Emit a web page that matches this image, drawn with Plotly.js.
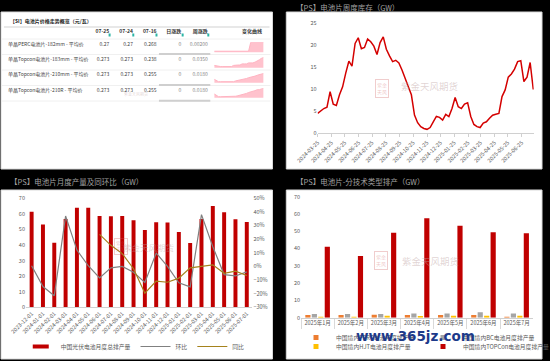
<!DOCTYPE html>
<html><head><meta charset="utf-8">
<script src="https://cdn.plot.ly/plotly-3.0.1.min.js"></script>
<style>
html,body{margin:0;padding:0;background:#000;}
#c{width:550px;height:361px;}
</style>
</head><body><div id="c"></div>
<script>
// ---------- data ----------
const invStart = '2024-03-25';
const inventory = [4.5,5.1,5.6,5.9,9.4,6.6,6.3,8.7,10.5,13.6,16.3,15.2,20.3,21.6,19.1,19.4,21.3,20.7,19.7,17.8,20.5,21.8,19.0,17.5,16.2,16.5,15.9,14.3,12.4,10.9,8.7,4.1,2.4,1.5,1.1,0.9,1.3,2.6,3.8,3.6,3.0,4.3,3.8,5.6,8.1,6.0,5.6,6.6,6.9,3.8,2.0,1.5,1.3,2.3,2.6,3.4,4.1,4.3,4.5,8.3,9.8,12.7,13.4,14.5,16.2,16.4,11.7,12.7,16.0,9.9];
const invTicks = ['2024-03-25','2024-04-25','2024-05-25','2024-06-25','2024-07-25','2024-08-25','2024-09-25','2024-10-25','2024-11-25','2024-12-25','2025-01-25','2025-02-25','2025-03-25','2025-04-25','2025-05-25','2025-06-25'];

const monthCats = ['2023-12-01','2024-01-01','2024-02-01','2024-03-01','2024-04-01','2024-05-01','2024-06-01','2024-07-01','2024-08-01','2024-09-01','2024-10-01','2024-11-01','2024-12-01','2025-01-01','2025-02-01','2025-03-01','2025-04-01','2025-05-01','2025-06-01','2025-07-01'];
const production = [61.4,53.1,41.5,56.7,64.0,64.0,58.7,58.4,58.7,55.9,49.7,54.6,54.4,48.4,41.3,56.7,65.1,61.0,56.5,54.8];
const momPct = [0.5,-14.8,-21.5,37.0,12.0,0.5,-8.4,-1.0,0.0,-4.3,-11.7,9.8,0.0,-12.0,-15.0,38.0,14.5,-6.0,-7.0,-4.0];
const yoyPct = [null,null,null,null,null,null,23.5,15.5,9.4,-1.7,-19.7,-10.8,-11.6,-8.6,-1.0,0.0,1.2,-5.0,-3.5,-6.7];

const techMonths = ['2025年1月','2025年2月','2025年3月','2025年4月','2025年5月','2025年6月','2025年7月'];
const percOut = [1.5,1.5,1.7,1.5,1.5,1.5,0.6];
const bcOut = [2.1,2.1,2.1,2.5,2.5,3.1,2.5];
const hjtOut = [0.6,0.6,1.2,1.0,1.2,1.2,1.2];
const topconOut = [41.1,35.7,49.2,57.5,53.2,49.4,48.8];

const tableHeaders = ['', '07-25', '07-24', '07-16', '日涨跌', '周涨跌', '变化曲线'];
const productNames = ['单晶PERC电池片-182mm - 平均价','单晶Topcon电池片-183mm - 平均价','单晶Topcon电池片-210mm - 平均价','单晶Topcon电池片-210R - 平均价'];
const price0725 = [0.27,0.273,0.273,0.273];
const price0724 = [0.27,0.273,0.273,0.273];
const price0716 = [0.268,0.238,0.255,0.255];
const dayChange = ['0','0','0','0'];
const weekChange = ['0.00200','0.0350','0.0180','0.0180'];
const sparkPERC182 = [0.268,0.268,0.268,0.268,0.268,0.268,0.268,0.268,0.268,0.268,0.268,0.268,0.268,0.268,0.268,0.268,0.268,0.27,0.27,0.27,0.27,0.27,0.27,0.27];
const sparkTopcon183 = [0.231,0.228,0.225,0.225,0.225,0.225,0.225,0.225,0.225,0.231,0.233,0.233,0.233,0.239,0.239,0.239,0.244,0.244,0.244,0.248,0.252,0.260,0.268,0.273];
const sparkTopcon210 = [0.258,0.255,0.252,0.252,0.252,0.252,0.252,0.252,0.252,0.252,0.254,0.255,0.256,0.258,0.259,0.260,0.262,0.263,0.265,0.266,0.268,0.270,0.271,0.273];
const sparkTopcon210R = [0.261,0.258,0.255,0.255,0.255,0.255,0.255,0.255,0.255,0.255,0.256,0.257,0.258,0.259,0.261,0.262,0.264,0.265,0.266,0.268,0.270,0.270,0.272,0.273];

// ---------- helpers ----------
const W = 550, H = 361;
const px = x => x / W;
const py = y => 1 - y / H;
const FONT = '"Noto Sans CJK SC", "Noto Sans", sans-serif';
const TICK = '#595959';
const NB = '\u00a0';
const CLEAR = 'rgba(0,0,0,0)';
function weeklyDates(start, n) {
  const d0 = Date.parse(start + 'T00:00:00Z');
  return Array.from({length: n}, (_, i) => new Date(d0 + i * 7 * 86400000).toISOString().slice(0, 10));
}
function sparkRange(a) {
  const lo = Math.min(...a), hi = Math.max(...a);
  return [lo - 0.12 * (hi - lo), hi];
}

const traces = [];
// top-right: weekly inventory
traces.push({type:'scatter', mode:'lines', x: weeklyDates(invStart, inventory.length), y: inventory,
  xaxis:'x', yaxis:'y', line:{color:'#d40000', width:1.5}, showlegend:false});

// bottom-left: monthly production
traces.push({type:'bar', x: monthCats, y: production, xaxis:'x2', yaxis:'y2', width:0.35,
  marker:{color:'#c00000'}, name:'中国光伏电池月度总排产量', legend:'legend'});
traces.push({type:'scatter', mode:'lines', x: monthCats, y: momPct, xaxis:'x2', yaxis:'y3',
  line:{color:'#808080', width:1.2}, name:'环比', legend:'legend'});
traces.push({type:'scatter', mode:'lines', x: monthCats, y: yoyPct, xaxis:'x2', yaxis:'y3',
  line:{color:'#a5821c', width:1.2}, name:'同比', legend:'legend'});

// bottom-right: output by technology
traces.push({type:'bar', x: techMonths, y: percOut, xaxis:'x3', yaxis:'y4', marker:{color:'#ed7d31'}, name:'中国境内PERC电池月度排产量', legend:'legend2'});
traces.push({type:'bar', x: techMonths, y: bcOut, xaxis:'x3', yaxis:'y4', marker:{color:'#a5a5a5'}, name:'中国境内BC电池月度排产量', legend:'legend2'});
traces.push({type:'bar', x: techMonths, y: hjtOut, xaxis:'x3', yaxis:'y4', marker:{color:'#ffc000'}, name:'中国境内HJT电池月度排产量', legend:'legend3'});
traces.push({type:'bar', x: techMonths, y: topconOut, xaxis:'x3', yaxis:'y4', marker:{color:'#c00000'}, name:'中国境内TOPCon电池月度排产量', legend:'legend3'});

// top-left: price table
traces.push({type:'table', domain:{x:[0, px(274)], y:[py(102), py(21.5)]},
  columnwidth:[95,24,24,24,25,27,55],
  header:{values: tableHeaders, align:['left','right','right','right','right','right','right'], height:12.7,
    font:{family:FONT, size:5, color:'#333', weight:'bold'}, fill:{color:CLEAR}, line:{width:0}},
  cells:{values:[productNames.map(s => s.replace(/ /g, NB)), price0725, price0724, price0716, dayChange, weekChange, productNames.map(() => '')],
    align:['left','right','right','right','right','right','right'], height:15.2,
    font:{family:FONT, size:5, color:['#444','#444','#444','#444','#888','#888','#444']},
    fill:{color:CLEAR}, line:{width:0}}});

const sparks = [sparkPERC182, sparkTopcon183, sparkTopcon210, sparkTopcon210R];
const sparkRows = [[42.3,52.3],[57.3,67.7],[73.3,82.7],[88.3,97.7]];
sparks.forEach((s, i) => {
  traces.push({type:'scatter', mode:'lines', y: s, xaxis:'x' + (4 + i), yaxis:'y' + (5 + i),
    line:{color:'#ffb3c1', width:1}, fill:'tozeroy', fillcolor:'#ffc2cd', showlegend:false});
});

// ---------- layout ----------
const axisFont = {family:FONT, size:5.5, color:TICK};
const legFont = {family:FONT, size:5.8, color:TICK};
const layout = {
  width:W, height:H, margin:{l:0,r:0,t:0,b:0},
  paper_bgcolor:'#000', plot_bgcolor:CLEAR,
  font:{family:FONT, size:6, color:TICK},
  barmode:'group', bargap:0.22, bargroupgap:0.2,
  xaxis:{domain:[px(321.7), px(540.6)], anchor:'y', type:'date', range:['2024-03-25','2025-07-22'],
    tickvals: invTicks, tickformat:'%Y-%m-%d', tickangle:-45, tickfont:axisFont,
    showgrid:false, showline:true, linecolor:'#d0d0d0', ticks:'outside', ticklen:3, tickcolor:'#d0d0d0', zeroline:false},
  yaxis:{domain:[py(133.3), py(22.7)], anchor:'x', range:[0,25], dtick:5, tickfont:axisFont,
    showgrid:false, showline:false, zeroline:false},
  xaxis2:{domain:[px(26.3), px(255.7)], anchor:'y2', type:'category', tickangle:-45, tickfont:axisFont,
    showgrid:false, showline:true, linecolor:'#d0d0d0', ticks:'', zeroline:false},
  yaxis2:{domain:[py(307.3), py(198.3)], anchor:'x2', range:[0,70], dtick:10, tickfont:axisFont,
    showgrid:false, zeroline:false},
  yaxis3:{domain:[py(307.3), py(198.3)], anchor:'x2', overlaying:'y2', side:'right', range:[-30,50], dtick:10,
    ticksuffix:'%', tickfont:axisFont, showgrid:false, zeroline:false},
  xaxis3:{domain:[px(304.9), px(540.1)], anchor:'y4', type:'category', tickfont:axisFont, tickangle:0,
    showgrid:false, showline:true, linecolor:'#d0d0d0', ticks:'outside', tickson:'boundaries', ticklen:10, tickcolor:'#d9d9d9'},
  yaxis4:{domain:[py(317.7), py(196.7)], anchor:'x3', range:[0,70], dtick:10, tickfont:axisFont,
    showgrid:false, zeroline:false},
  legend:{orientation:'h', x:px(137), xanchor:'center', y:0, yanchor:'bottom',
    font:legFont, bgcolor:CLEAR, tracegroupgap:0},
  legend2:{orientation:'h', x:px(300), xanchor:'left', y:py(352), yanchor:'bottom',
    font:legFont, bgcolor:CLEAR, entrywidth:82, entrywidthmode:'pixels'},
  legend3:{orientation:'h', x:px(300), xanchor:'left', y:0, yanchor:'bottom',
    font:legFont, bgcolor:CLEAR, entrywidth:82, entrywidthmode:'pixels'},
  shapes:[], annotations:[]
};
sparks.forEach((s, i) => {
  layout['xaxis' + (4 + i)] = {domain:[px(217), px(267)], anchor:'y' + (5 + i), visible:false, range:[0, s.length - 1], fixedrange:true};
  layout['yaxis' + (5 + i)] = {domain:[py(sparkRows[i][1]), py(sparkRows[i][0])], anchor:'x' + (4 + i), visible:false, range: sparkRange(s), fixedrange:true};
});

// panels
function rect(x0, y0, x1, y1, fill, line, layer) {
  return {type:'rect', xref:'paper', yref:'paper', x0:px(x0), x1:px(x1), y0:py(y1), y1:py(y0),
    fillcolor:fill, line:{color:line || fill, width:line ? 1 : 0}, layer:layer || 'below'};
}
layout.shapes.push(rect(1, 12, 276, 169, '#fff', '#d9d9d9'));
layout.shapes.push(rect(290, 12, 549, 169, '#fff', '#d9d9d9'));
layout.shapes.push(rect(1, 190, 276, 359, '#fff', '#d9d9d9'));
layout.shapes.push(rect(290, 190, 549, 359, '#fff', '#d9d9d9'));
// table rules and sort icons
function hline(y, x0, x1, color, w) {
  return {type:'line', xref:'paper', yref:'paper', x0:px(x0), x1:px(x1), y0:py(y), y1:py(y), line:{color:color, width:w}, layer:'below'};
}
layout.shapes.push(hline(27, 4, 273, '#e8e8e8', 2));
[39, 54.5, 70, 85.5, 101].forEach(y => layout.shapes.push(hline(y, 2, 274, '#f0f0f0', 1)));
[54, 85, 100.7].forEach(y => layout.shapes.push(hline(y, 161, 213, '#cfcfcf', 2)));
[111, 135, 158.5, 185, 211].forEach(x => layout.shapes.push(rect(x - 1, 33.5, x + 1, 36.5, '#2bb5a5', null, 'above')));

// titles
function title(text, x, y, size, color) {
  return {text:text, xref:'paper', yref:'paper', x:px(x), y:py(y), xanchor:'left', yanchor:'middle',
    showarrow:false, font:{family:FONT, size:size, color:color}};
}
layout.annotations.push(title('<b>【SI】电池片价格走势概览（元/瓦）</b>', 8, 21, 5, '#1a1a1a'));
layout.annotations.push(title('【PS】电池片周度库存（GW）', 298, 7, 7.5, '#a0a0a0'));
layout.annotations.push(title('【PS】电池片月度产量及同环比（GW）', 8, 182, 7.5, '#a0a0a0'));
layout.annotations.push(title('【PS】电池片-分技术类型排产（GW）', 298, 182, 7.5, '#a0a0a0'));

// watermarks
function seal(x, y, s) {
  return {text:'紫金<br>天风', xref:'paper', yref:'paper', x:px(x), y:py(y), showarrow:false,
    font:{family:FONT, size:s, color:'rgba(205,90,90,0.35)'}, bordercolor:'rgba(205,90,90,0.3)', borderwidth:1, borderpad:1};
}
function wm(x, y, s) {
  return {text:'紫金天风期货', xref:'paper', yref:'paper', x:px(x), y:py(y), xanchor:'left', showarrow:false,
    font:{family:FONT, size:s, color:'rgba(190,160,160,0.45)'}};
}
layout.annotations.push(seal(394, 79, 5), wm(404, 77, 9.5));
layout.annotations.push(seal(115, 255, 4.5), wm(123, 255, 8.5));
layout.annotations.push(seal(393, 270, 5), wm(405, 270, 9.5));
layout.annotations.push(wm(124, 89, 4));
layout.annotations.push({text:'<b>www.365jz.com</b>', xref:'paper', yref:'paper', x:px(483), y:py(346), showarrow:false,
  font:{family:'"DejaVu Sans", sans-serif', size:13.5, color:'#1d3a8a'}});

Plotly.newPlot('c', traces, layout, {displayModeBar:false, staticPlot:true}).then(gd => {
  // compact legend swatches for bar traces, like the reference
  gd.querySelectorAll('.legendpoints path').forEach(p => {
    const d = p.getAttribute('d') || '';
    if (d.indexOf('H-6V-6') < 0) return;
    const r = p.getBoundingClientRect();
    p.setAttribute('d', r.left < 280 ? 'M8,2H-8V-2H8Z' : 'M2.5,2.5H-2.5V-2.5H2.5Z');
  });
});
</script>
</body></html>
